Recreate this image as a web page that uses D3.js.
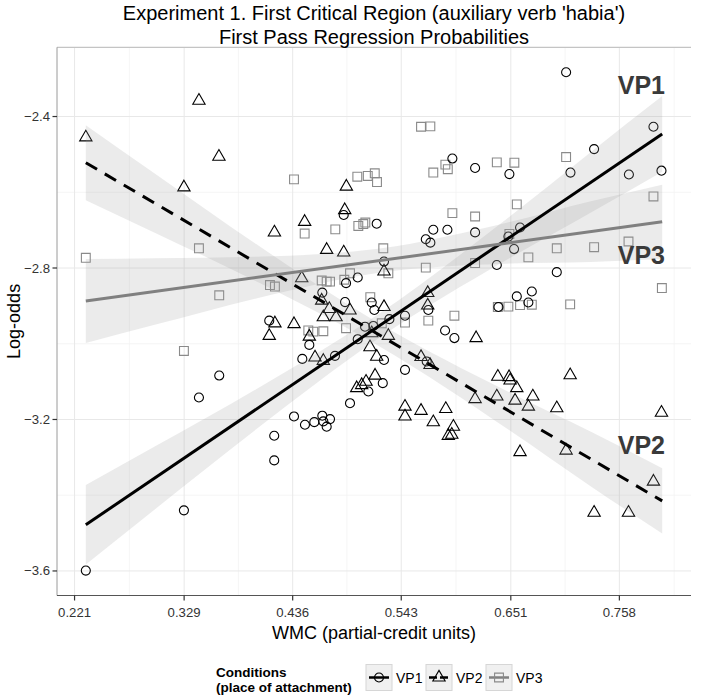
<!DOCTYPE html>
<html><head><meta charset="utf-8">
<script src="https://cdn.jsdelivr.net/npm/d3@7"></script>
<style>body{margin:0;background:#fff;} text{font-family:"Liberation Sans",Arial,Helvetica,sans-serif;}</style>
</head><body><svg id="c" width="708" height="699"></svg>
<script>
// ---------- data ----------
const titleLines = ["Experiment 1. First Critical Region (auxiliary verb 'habia')", "First Pass Regression Probabilities"];
const xTicks = [0.221, 0.329, 0.436, 0.543, 0.651, 0.758];
const yTicks = [-2.4, -2.8, -3.2, -3.6];
const conditions = ["VP1", "VP2", "VP3"];

const vp1 = [[0.7055,-2.283],[0.7916,-2.427],[0.7331,-2.486],[0.5934,-2.511],[0.6158,-2.536],[0.6496,-2.552],[0.7098,-2.548],[0.7674,-2.553],[0.7995,-2.543],[0.4863,-2.660],[0.5188,-2.683],[0.5746,-2.699],[0.5885,-2.699],[0.5672,-2.724],[0.5717,-2.733],[0.6158,-2.706],[0.6601,-2.693],[0.6486,-2.717],[0.6542,-2.750],[0.6372,-2.792],[0.6963,-2.811],[0.5260,-2.783],[0.4129,-2.939],[0.3636,-3.084],[0.3436,-3.142],[0.4886,-2.840],[0.5001,-2.825],[0.4652,-2.865],[0.4876,-2.890],[0.5139,-2.891],[0.5165,-2.911],[0.5697,-2.911],[0.5467,-2.926],[0.5313,-2.935],[0.5073,-2.955],[0.5155,-2.953],[0.4524,-3.003],[0.5001,-2.988],[0.5862,-2.965],[0.5954,-2.985],[0.4455,-3.040],[0.4777,-3.032],[0.5260,-3.043],[0.5467,-3.069],[0.5681,-3.047],[0.5106,-3.126],[0.5248,-3.104],[0.4925,-3.157],[0.4373,-3.192],[0.4481,-3.214],[0.4573,-3.207],[0.4652,-3.190],[0.4662,-3.205],[0.4728,-3.199],[0.4695,-3.219],[0.4178,-3.243],[0.4178,-3.308],[0.3288,-3.440],[0.2321,-3.599],[0.6569,-2.875],[0.6717,-2.862],[0.6683,-2.891],[0.6388,-2.903]];

const vp2 = [[0.3436,-2.358],[0.2321,-2.455],[0.3633,-2.506],[0.3288,-2.587],[0.4180,-2.706],[0.4889,-2.585],[0.4873,-2.647],[0.4478,-2.678],[0.4695,-2.752],[0.4863,-2.759],[0.5260,-2.809],[0.4449,-2.827],[0.4646,-2.886],[0.4721,-2.908],[0.4925,-2.912],[0.5260,-2.903],[0.5691,-2.866],[0.5691,-2.899],[0.4662,-2.930],[0.4787,-2.930],[0.4185,-2.946],[0.4373,-2.948],[0.4129,-2.979],[0.5139,-2.972],[0.4524,-2.981],[0.5303,-2.979],[0.6168,-2.985],[0.4580,-3.036],[0.4662,-3.045],[0.5122,-3.009],[0.5188,-3.034],[0.5625,-3.035],[0.5714,-3.056],[0.5172,-3.084],[0.4991,-3.117],[0.5040,-3.109],[0.5083,-3.100],[0.6158,-3.146],[0.5467,-3.166],[0.5467,-3.192],[0.5625,-3.177],[0.5869,-3.172],[0.5746,-3.207],[0.5944,-3.219],[0.5894,-3.243],[0.5928,-3.240],[0.6382,-3.087],[0.6493,-3.088],[0.6503,-3.097],[0.6569,-3.117],[0.7095,-3.083],[0.6372,-3.139],[0.6552,-3.150],[0.6727,-3.139],[0.6683,-3.166],[0.6963,-3.170],[0.7995,-3.182],[0.6601,-3.286],[0.7055,-3.282],[0.7916,-3.364],[0.7331,-3.446],[0.7670,-3.446]];

const vp3 = [[0.5625,-2.427],[0.5717,-2.426],[0.4373,-2.566],[0.4997,-2.559],[0.5100,-2.557],[0.5169,-2.550],[0.5191,-2.573],[0.5865,-2.527],[0.5889,-2.539],[0.5746,-2.548],[0.4478,-2.709],[0.4780,-2.698],[0.5007,-2.689],[0.5056,-2.684],[0.5076,-2.680],[0.5934,-2.655],[0.6158,-2.664],[0.6372,-2.521],[0.6545,-2.522],[0.7055,-2.507],[0.7916,-2.611],[0.6569,-2.632],[0.6496,-2.710],[0.7670,-2.730],[0.2321,-2.773],[0.3436,-2.748],[0.3636,-2.872],[0.4136,-2.845],[0.4185,-2.849],[0.3288,-3.019],[0.5253,-2.748],[0.5303,-2.814],[0.5672,-2.799],[0.6158,-2.787],[0.4646,-2.833],[0.4695,-2.836],[0.4728,-2.836],[0.4869,-2.831],[0.4925,-2.814],[0.5125,-2.877],[0.5467,-2.944],[0.5697,-2.939],[0.5954,-2.926],[0.4886,-2.959],[0.4514,-2.965],[0.4563,-2.968],[0.4662,-2.967],[0.5238,-2.946],[0.6683,-2.772],[0.6963,-2.748],[0.7331,-2.745],[0.7999,-2.853],[0.6382,-2.903],[0.6486,-2.902],[0.6601,-2.898],[0.6717,-2.897],[0.7095,-2.896]];

// fitted lines (endpoints) and confidence band half-widths
const fitX = [0.2321, 0.8002];
const vp1Fit = [-3.478, -2.446];
const vp2Fit = [-2.522, -3.415];
const vp3Fit = [-2.887, -2.678];
const bandX = [0.2321, 0.30, 0.40, 0.52, 0.65, 0.73, 0.8002];
const vp1Half = [0.105, 0.083, 0.053, 0.032, 0.055, 0.080, 0.100];
const vp2Half = [0.099, 0.078, 0.049, 0.030, 0.050, 0.072, 0.086];
const vp3Half = [0.111, 0.088, 0.055, 0.032, 0.055, 0.080, 0.098];

// ---------- drawing ----------
const svg = d3.select("#c");
const L = 57, R = 691, T = 47.3, B = 595.5;
const allPts = vp1.concat(vp2, vp3);
const xe = d3.extent(allPts.map(d => d[0]).concat(fitX));
const ye = d3.extent(allPts.map(d => d[1]));
const xp = (xe[1]-xe[0])*0.05, yp = (ye[1]-ye[0])*0.05;
const x = d3.scaleLinear().domain([xe[0]-xp, xe[1]+xp]).range([L, R]);
const y = d3.scaleLinear().domain([ye[0]-yp, ye[1]+yp]).range([B, T]);

// grid
const g = svg.append("g");
const xMinor = [];
for (let i = 0; i < xTicks.length-1; i++) xMinor.push((xTicks[i]+xTicks[i+1])/2);
xMinor.push(xTicks[xTicks.length-1] + (xTicks[1]-xTicks[0])/2);
const yMinor = [];
for (let i = 0; i < yTicks.length-1; i++) yMinor.push((yTicks[i]+yTicks[i+1])/2);
g.selectAll(".xm").data(xMinor).enter().append("line")
  .attr("x1", d=>x(d)).attr("x2", d=>x(d)).attr("y1", T).attr("y2", B)
  .attr("stroke", "#f2f2f2").attr("stroke-width", 0.8);
g.selectAll(".ym").data(yMinor).enter().append("line")
  .attr("y1", d=>y(d)).attr("y2", d=>y(d)).attr("x1", L).attr("x2", R)
  .attr("stroke", "#f2f2f2").attr("stroke-width", 0.8);
g.selectAll(".xM").data(xTicks).enter().append("line")
  .attr("x1", d=>x(d)).attr("x2", d=>x(d)).attr("y1", T).attr("y2", B)
  .attr("stroke", "#e8e8e8").attr("stroke-width", 1);
g.selectAll(".yM").data(yTicks).enter().append("line")
  .attr("y1", d=>y(d)).attr("y2", d=>y(d)).attr("x1", L).attr("x2", R)
  .attr("stroke", "#e8e8e8").attr("stroke-width", 1);

// top border
svg.append("line").attr("x1", L).attr("x2", R).attr("y1", T).attr("y2", T)
  .attr("stroke", "#c4c4c4").attr("stroke-width", 1.2);

// points
const symCircle = d3.symbol().type(d3.symbolCircle).size(64);
const symTri = d3.symbol().type(d3.symbolTriangle).size(66);
const symSq = d3.symbol().type(d3.symbolSquare).size(78);
function drawPts(data, sym, color) {
  svg.append("g").selectAll("path").data(data).enter().append("path")
    .attr("d", sym).attr("transform", d => `translate(${x(d[0])},${y(d[1])})`)
    .attr("fill", "none").attr("stroke", color).attr("stroke-width", 1.1);
}
drawPts(vp3, symSq, "#8a8a8a");
drawPts(vp2, symTri, "#000");
drawPts(vp1, symCircle, "#000");

// bands and lines
const series = [
  {fit: vp1Fit, half: vp1Half, color: "#000", dash: null},
  {fit: vp2Fit, half: vp2Half, color: "#000", dash: "13,9"},
  {fit: vp3Fit, half: vp3Half, color: "#808080", dash: null}
];
const lineAt = (fit, xv) => fit[0] + (fit[1]-fit[0])*(xv-fitX[0])/(fitX[1]-fitX[0]);
const area = d3.area().x(d=>x(d.x)).y0(d=>y(d.lo)).y1(d=>y(d.hi)).curve(d3.curveMonotoneX);
series.forEach(s => {
  const bd = bandX.map((bx,i) => ({x: bx, lo: lineAt(s.fit,bx)-s.half[i], hi: lineAt(s.fit,bx)+s.half[i]}));
  svg.append("path").attr("d", area(bd)).attr("fill", "#999").attr("fill-opacity", 0.2);
});
series.forEach(s => {
  svg.append("line").attr("x1", x(fitX[0])).attr("x2", x(fitX[1]))
    .attr("y1", y(s.fit[0])).attr("y2", y(s.fit[1]))
    .attr("stroke", s.color).attr("stroke-width", 3)
    .attr("stroke-dasharray", s.dash);
});

// labels in plot
const labY = [94, 454.3, 264.3];
conditions.forEach((c,i) => {
  svg.append("text").attr("x", 665).attr("y", labY[i]).attr("text-anchor", "end")
    .attr("font-size", 25).attr("font-weight", "bold").attr("fill", "#3a3a3a").text(c);
});

// axes
svg.append("line").attr("x1", L).attr("x2", L).attr("y1", T).attr("y2", B)
  .attr("stroke", "#9a9a9a").attr("stroke-width", 1);
svg.append("line").attr("x1", L).attr("x2", R).attr("y1", B).attr("y2", B)
  .attr("stroke", "#555").attr("stroke-width", 1);
xTicks.forEach(t => {
  svg.append("line").attr("x1", x(t)).attr("x2", x(t)).attr("y1", B).attr("y2", B+5)
    .attr("stroke", "#333").attr("stroke-width", 1.2);
  svg.append("text").attr("x", x(t)).attr("y", 617).attr("text-anchor", "middle")
    .attr("font-size", 13.2).attr("fill", "#333").text(d3.format(".3f")(t));
});
yTicks.forEach(t => {
  svg.append("line").attr("x1", L-4.5).attr("x2", L).attr("y1", y(t)).attr("y2", y(t))
    .attr("stroke", "#333").attr("stroke-width", 1.2);
  svg.append("text").attr("x", L-7).attr("y", y(t)+4.5).attr("text-anchor", "end")
    .attr("font-size", 13.2).attr("fill", "#333").text(d3.format(".1f")(t));
});
svg.append("text").attr("x", (L+R)/2).attr("y", 639).attr("text-anchor", "middle")
  .attr("font-size", 18).attr("fill", "#000").text("WMC (partial-credit units)");
svg.append("text").attr("transform", `translate(20,${(T+B)/2}) rotate(-90)`)
  .attr("text-anchor", "middle").attr("font-size", 18).attr("fill", "#000").text("Log-odds");

// title
titleLines.forEach((t,i) => {
  svg.append("text").attr("x", (L+R)/2).attr("y", 20 + i*23.5).attr("text-anchor", "middle")
    .attr("font-size", 20).attr("fill", "#000").text(t);
});

// legend
const lg = svg.append("g");
lg.append("text").attr("x", 216).attr("y", 676.5).attr("font-size", 13.5).attr("font-weight", "bold").text("Conditions");
lg.append("text").attr("x", 216).attr("y", 691.5).attr("font-size", 13.5).attr("font-weight", "bold").text("(place of attachment)");
const keyX = [366, 426, 486];
const syms = [symCircle, symTri, symSq];
const symColors = ["#000", "#000", "#8a8a8a"];
conditions.forEach((c,i) => {
  const kx = keyX[i], ky = 664.5, ks = 26;
  lg.append("rect").attr("x", kx).attr("y", ky).attr("width", ks).attr("height", ks)
    .attr("fill", "#f0f0f0").attr("stroke", "#d6d6d6").attr("stroke-width", 1);
  lg.append("line").attr("x1", kx+3).attr("x2", kx+ks-3).attr("y1", ky+ks/2).attr("y2", ky+ks/2)
    .attr("stroke", series[i].color).attr("stroke-width", 2.5)
    .attr("stroke-dasharray", series[i].dash ? "8,3" : null);
  lg.append("path").attr("d", syms[i]).attr("transform", `translate(${kx+ks/2},${ky+ks/2})`)
    .attr("fill", "none").attr("stroke", symColors[i]).attr("stroke-width", 1.1);
  lg.append("text").attr("x", kx+ks+4).attr("y", ky+ks/2+5).attr("font-size", 14).text(c);
});
</script>
</body></html>
